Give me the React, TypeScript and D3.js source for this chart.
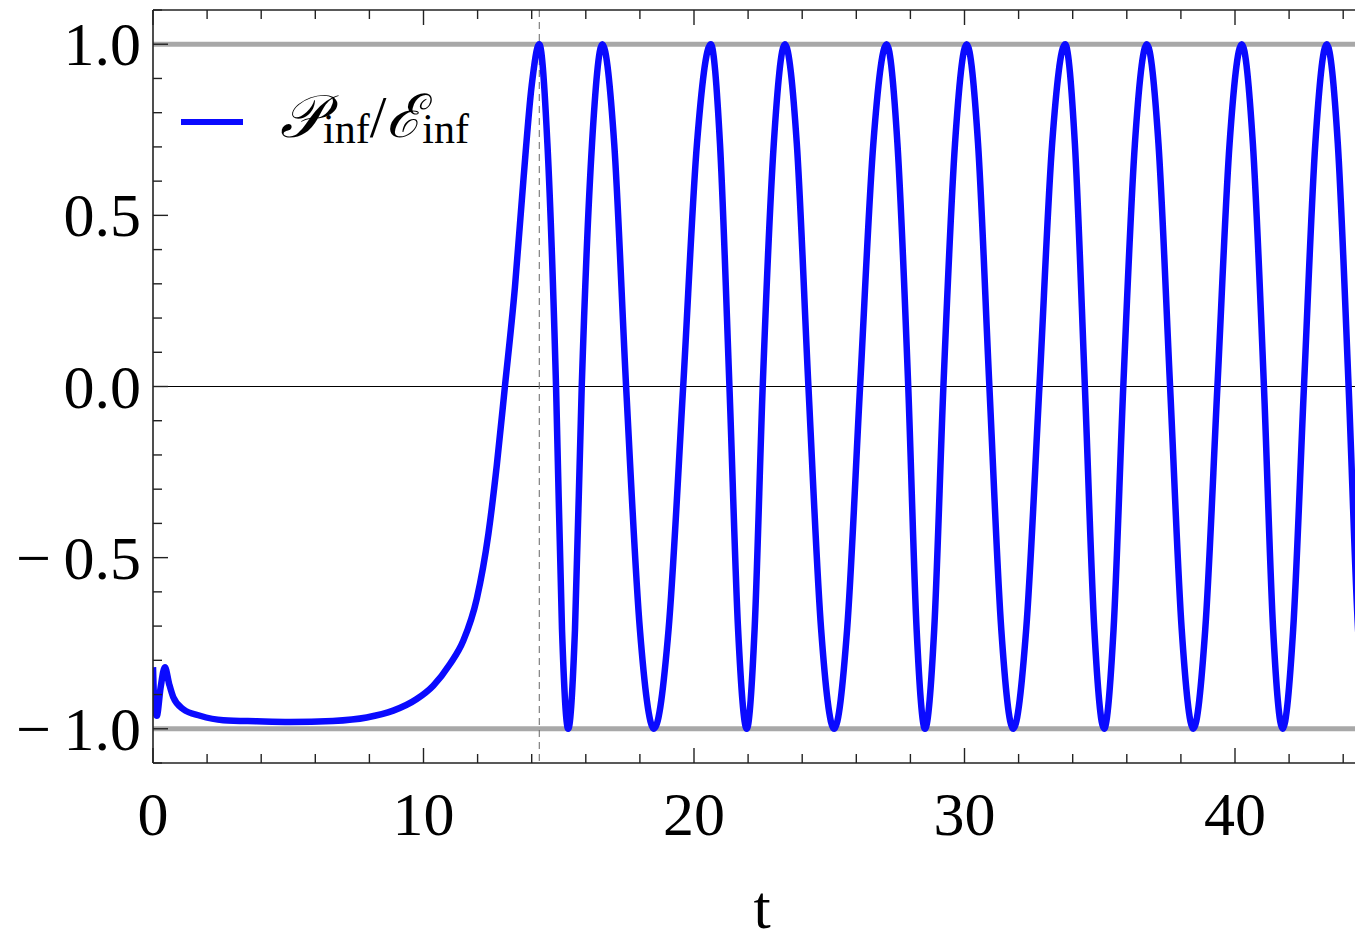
import React from 'react';
import * as d3 from 'd3';

const W = 1355;
const H = 941;

const xDomain = [0, 45];
const yDomain = [-1.1, 1.1];
const xMajorTicks = [0, 10, 20, 30, 40];
const xTickLabels = ['0', '10', '20', '30', '40'];
const yMajorTicks = [1, 0.5, 0, -0.5, -1];
const yTickLabels = ['1.0', '0.5', '0.0', '\u2212\u20090.5', '\u2212\u20091.0'];
const boundLevels = [-1, 1];
const markerT = 14.28;

// initial transient
const earlyT = [0, 0.05, 0.14, 0.28, 0.44, 0.6, 0.75, 1.12, 1.74, 2.6, 3.83, 5.06, 6.65, 7.9, 8.88, 9.75, 10.36, 10.98, 11.47, 11.97, 12.4, 12.71, 13.01, 13.38, 13.69, 14.0, 14.28];
const earlyV = [-0.82, -0.93, -0.962, -0.88, -0.82, -0.87, -0.908, -0.943, -0.962, -0.975, -0.978, -0.98, -0.977, -0.967, -0.947, -0.913, -0.874, -0.811, -0.743, -0.62, -0.43, -0.23, 0, 0.29, 0.6, 0.88, 1.0];

// oscillation after first maximum
const oscT = [14.58, 14.9, 15.12, 15.35, 15.6, 15.85, 16.23, 16.61, 17.05, 17.49, 18.0, 18.52, 19.06, 19.6, 20.11, 20.62, 20.96, 21.31, 21.63, 21.95, 22.24, 22.54, 22.95, 23.36, 23.8, 24.23, 24.7, 25.18, 25.66, 26.14, 26.63, 27.12, 27.52, 27.92, 28.23, 28.54, 28.88, 29.22, 29.65, 30.08, 30.5, 30.92, 31.36, 31.8, 32.28, 32.77, 33.24, 33.72, 34.08, 34.45, 34.8, 35.16, 35.51, 35.87, 36.3, 36.74, 37.17, 37.6, 38.03, 38.46, 38.9, 39.35, 39.8, 40.25, 40.66, 41.07, 41.41, 41.76, 42.15, 42.55, 42.97, 43.39, 43.8, 44.2, 44.55, 44.9];
const oscV = [0.71, 0, -0.71, -1, -0.71, 0, 0.71, 1, 0.71, 0, -0.71, -1, -0.71, 0, 0.71, 1, 0.71, 0, -0.71, -1, -0.71, 0, 0.71, 1, 0.71, 0, -0.71, -1, -0.71, 0, 0.71, 1, 0.71, 0, -0.71, -1, -0.71, 0, 0.71, 1, 0.71, 0, -0.71, -1, -0.71, 0, 0.71, 1, 0.71, 0, -0.71, -1, -0.71, 0, 0.71, 1, 0.71, 0, -0.71, -1, -0.71, 0, 0.71, 1, 0.71, 0, -0.71, -1, -0.71, 0, 0.71, 1, 0.71, 0, -0.71, -1];

const left = 153;
const top = 10;
const bottom = 763;
const pxPerUnit = 27.05;
const right = left + (xDomain[1] - xDomain[0]) * pxPerUnit;

const BLUE = '#0a0aff';
const FONT = '"Liberation Serif", "Times New Roman", serif';

export default function App() {
  const x = d3.scaleLinear().domain(xDomain).range([left, right]);
  const y = d3.scaleLinear().domain(yDomain).range([bottom, top]);

  const pts: [number, number][] = [];
  earlyT.forEach((t, i) => pts.push([t, earlyV[i]]));
  oscT.forEach((t, i) => pts.push([t, oscV[i]]));

  const line = d3
    .line<[number, number]>()
    .x((d) => x(d[0]))
    .y((d) => y(d[1]))
    .curve(d3.curveMonotoneX);

  const xMinor = d3.range(0, 46, 2).filter((v) => v % 10 !== 0);
  const yMinor = d3.range(-11, 12, 1).map((v) => v / 10).filter((v) => Math.abs((v * 10) % 5) > 1e-6);

  const MAJ = 15;
  const MIN = 9;
  const fs = 62;

  return (
    <svg width={W} height={H} style={{ position: 'absolute', left: 0, top: 0, background: '#fff' }}>
      <defs>
        <clipPath id="plotclip">
          <rect x={left} y={top} width={right - left} height={bottom - top} />
        </clipPath>
      </defs>
      <rect x={0} y={0} width={W} height={H} fill="#fff" />

      {/* reference lines */}
      <g clipPath="url(#plotclip)">
        {boundLevels.map((b) => (
          <line key={b} x1={left} x2={right} y1={y(b)} y2={y(b)} stroke="#a8a8a8" strokeWidth={5} />
        ))}
        <line x1={left} x2={right} y1={y(0)} y2={y(0)} stroke="#000" strokeWidth={1.2} />
        <line x1={x(markerT)} x2={x(markerT)} y1={top} y2={bottom} stroke="#666" strokeWidth={1} strokeDasharray="7,5" />
        <path d={line(pts) || ''} fill="none" stroke={BLUE} strokeWidth={6.5} strokeLinejoin="round" />
      </g>

      {/* frame */}
      <g stroke="#222" strokeWidth={1.6} fill="none">
        <line x1={left} x2={right} y1={top} y2={top} />
        <line x1={left} x2={right} y1={bottom} y2={bottom} />
        <line x1={left} x2={left} y1={top} y2={bottom} />
        <line x1={right} x2={right} y1={top} y2={bottom} />
      </g>

      {/* ticks */}
      <g stroke="#222" strokeWidth={1.4}>
        {xMajorTicks.map((t) => (
          <g key={'xM' + t}>
            <line x1={x(t)} x2={x(t)} y1={bottom} y2={bottom - MAJ} />
            <line x1={x(t)} x2={x(t)} y1={top} y2={top + MAJ} />
          </g>
        ))}
        {xMinor.map((t) => (
          <g key={'xm' + t}>
            <line x1={x(t)} x2={x(t)} y1={bottom} y2={bottom - MIN} />
            <line x1={x(t)} x2={x(t)} y1={top} y2={top + MIN} />
          </g>
        ))}
        {yMajorTicks.map((v) => (
          <line key={'yM' + v} x1={left} x2={left + MAJ} y1={y(v)} y2={y(v)} />
        ))}
        {yMinor.map((v) => (
          <line key={'ym' + v} x1={left} x2={left + MIN} y1={y(v)} y2={y(v)} />
        ))}
      </g>

      {/* tick labels */}
      <g fontFamily={FONT} fontSize={fs} fill="#000">
        {xMajorTicks.map((t, i) => (
          <text key={'xl' + t} x={x(t)} y={835} textAnchor="middle">
            {xTickLabels[i]}
          </text>
        ))}
        {yMajorTicks.map((v, i) => (
          <text key={'yl' + v} x={141} y={y(v) + fs * 0.34} textAnchor="end">
            {yTickLabels[i]}
          </text>
        ))}
        <text x={762} y={928} textAnchor="middle" fontSize={62}>
          t
        </text>
      </g>

      {/* legend */}
      <line x1={181} x2={243} y1={122} y2={122} stroke={BLUE} strokeWidth={6} />
      <text x={280} y={137} fontFamily={FONT} fontSize={60} fill="#000">
        <tspan fontStyle="italic">{'\u{1D4AB}'}</tspan>
        <tspan fontSize={42} dy={6}>inf</tspan>
        <tspan dy={-6}>/</tspan>
        <tspan fontStyle="italic">{'\u2130'}</tspan>
        <tspan fontSize={42} dy={6}>inf</tspan>
      </text>
    </svg>
  );
}
